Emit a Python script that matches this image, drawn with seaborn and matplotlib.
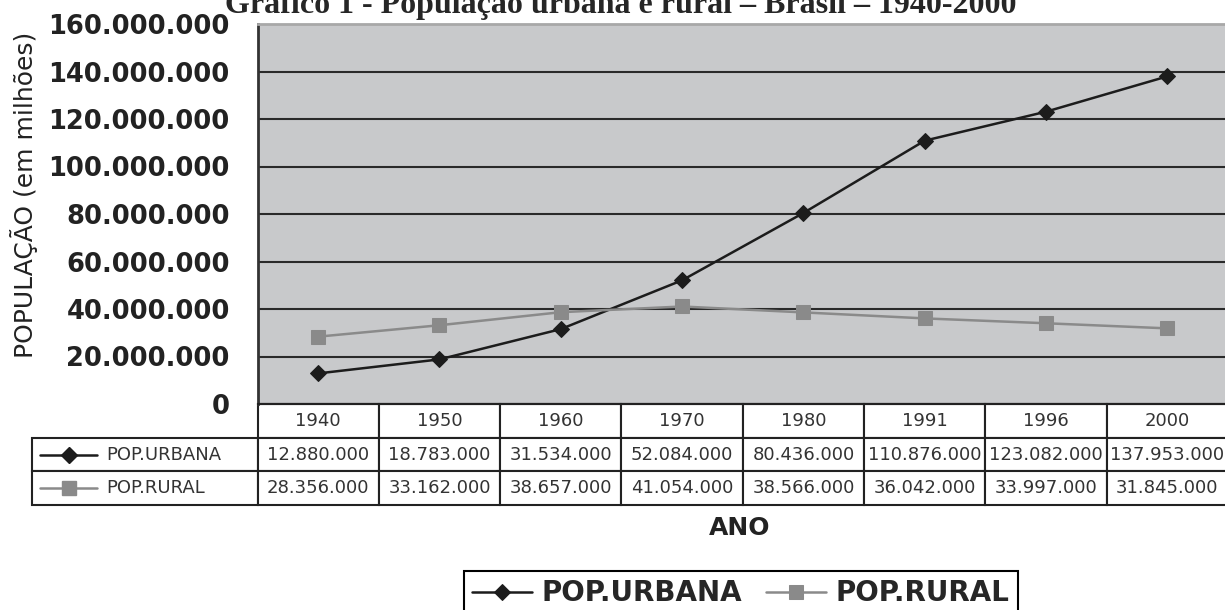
import numpy as np
import pandas as pd
import matplotlib.pyplot as plt
import seaborn as sns
from matplotlib.table import Table
from matplotlib.ticker import FuncFormatter, MultipleLocator
from matplotlib.lines import Line2D

# dados
anos = ["1940", "1950", "1960", "1970", "1980", "1991", "1996", "2000"]
pop_urbana = [12880000, 18783000, 31534000, 52084000, 80436000, 110876000, 123082000, 137953000]
pop_rural = [28356000, 33162000, 38657000, 41054000, 38566000, 36042000, 33997000, 31845000]
series = ["POP.URBANA", "POP.RURAL"]

cores = {"POP.URBANA": "#1c1c1c", "POP.RURAL": "#8a8a8a"}
marcadores = {"POP.URBANA": "D", "POP.RURAL": "s"}
tamanhos = {"POP.URBANA": 8, "POP.RURAL": 10}

def fmt_pt(v):
    return f"{v:,.0f}".replace(",", ".")

sns.set_style("white")
plt.rcParams["font.family"] = ["DejaVu Sans"]

W, H = 1225, 610
fig = plt.figure(figsize=(W / 100, H / 100), dpi=100)
ax = fig.add_axes([257.5 / W, 1 - 404 / H, 970.5 / W, 380 / H])
ax.set_facecolor("#c8c9cb")

valores = {"POP.URBANA": pop_urbana, "POP.RURAL": pop_rural}
for nome in series:
    sns.lineplot(x=anos, y=valores[nome], color=cores[nome], marker=marcadores[nome],
                 markersize=tamanhos[nome], markeredgecolor=cores[nome], linewidth=1.8,
                 ax=ax, legend=False)
handles = list(ax.get_lines()[:2])

ax.set_xlim(-0.5, len(anos) - 0.5)
ax.set_ylim(0, 160e6)
ax.yaxis.set_major_locator(MultipleLocator(20e6))
ax.yaxis.set_major_formatter(FuncFormatter(lambda v, p: fmt_pt(v)))
ax.set_xticks([])
ax.set_xlabel("")

# grade horizontal
ax.grid(axis="y", color="#2a2a2a", linewidth=1.5)
ax.set_axisbelow(True)
ax.tick_params(axis="y", direction="out", length=9, width=1.5, color="#444444",
               pad=11, labelsize=18.5, labelcolor="#222222")
plt.setp(ax.get_yticklabels(), fontweight="bold")
for t in ax.yaxis.get_major_ticks():
    if t.get_loc() >= 160e6:
        t.gridline.set_visible(False)

ax.spines["left"].set_color("#333333")
ax.spines["left"].set_linewidth(2)
ax.spines["bottom"].set_color("#222222")
ax.spines["bottom"].set_linewidth(1.5)
ax.spines["top"].set_color("#a8a8a8")
ax.spines["top"].set_linewidth(2)
ax.spines["right"].set_visible(False)

ax.set_ylabel("POPULAÇÃO (em milhões)", fontsize=18, color="#222222")
ax.yaxis.set_label_coords(-0.226, 0.55)

# tabela de dados abaixo do gráfico (bbox = só as colunas de anos)
lab_w = 225.5 / 970.5
tab_h = 101 / 380
row_h = tab_h / 3
tbl = Table(ax, bbox=[0, -tab_h, 1, tab_h])
col_w = 1 / len(anos)
for j, ano in enumerate(anos):
    tbl.add_cell(0, j, width=col_w, height=row_h, text=ano, loc="center")
for i, nome in enumerate(series):
    c = tbl.add_cell(i + 1, -1, width=lab_w, height=row_h, text=nome, loc="left")
    c.PAD = 0.33
    for j, v in enumerate(valores[nome]):
        tbl.add_cell(i + 1, j, width=col_w, height=row_h, text=fmt_pt(v), loc="center")
tbl.auto_set_font_size(False)
tbl.set_fontsize(13)
for cell in tbl.get_celld().values():
    cell.set_edgecolor("#222222")
    cell.set_linewidth(1.5)
    cell.set_facecolor("white")
    cell.get_text().set_color("#333333")
ax.add_table(tbl)

# simbolos das series na tabela
x0, x1 = (40 - 257.5) / 970.5, (97 - 257.5) / 970.5
for i, nome in enumerate(series):
    y = -(i + 1.5) * row_h
    ax.add_line(Line2D([x0, (x0 + x1) / 2, x1], [y, y, y], color=cores[nome], lw=1.8,
                       marker=marcadores[nome], markevery=[1], ms=tamanhos[nome],
                       mec=cores[nome], transform=ax.transAxes, clip_on=False))

fig.text(740 / W, 1 - 528 / H, "ANO", ha="center", va="center",
         fontweight="bold", fontsize=18, color="#222222")

fig.text(0.507, 1 - 13 / H, "Gráfico 1 - População urbana e rural – Brasil – 1940-2000",
         ha="center", va="baseline", family=["Liberation Serif", "DejaVu Serif"],
         fontweight="bold", fontsize=23)

leg = fig.legend(handles, series, loc="upper center", bbox_to_anchor=(741 / W, 1 - 571 / H),
                 ncol=2, frameon=True, fancybox=False, edgecolor="black", framealpha=1,
                 prop=dict(weight="bold", size=20), handlelength=2.15, handletextpad=0.36,
                 columnspacing=0.85, borderpad=0.3, borderaxespad=0)
leg.get_frame().set_linewidth(1.5)

plt.savefig("out.png", dpi=100)
